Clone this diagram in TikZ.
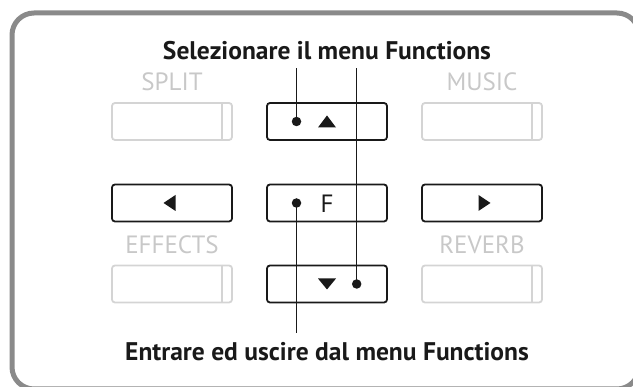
\documentclass[tikz,border=0pt]{standalone}
\usepackage{fontspec}
\setmainfont{PT Sans}
\usepackage{tikz}
\usetikzlibrary{positioning, calc}
\definecolor{framegray}{HTML}{8A8A8A}
\definecolor{keygray}{HTML}{D4D4D4}
\definecolor{labgray}{HTML}{C8C8C8}

\begin{document}
\begin{tikzpicture}[x=1pt, y=-1pt,
    key/.style={draw=black!90, line width=1.8pt, rounded corners=3pt, minimum width=120pt, minimum height=37pt, inner sep=0pt},
    offkey/.style={key, draw=keygray},
    keylab/.style={anchor=base, inner sep=0pt, text=labgray, font=\fontsize{25}{29}\selectfont},
    title/.style={anchor=base, inner sep=0pt, font=\fontsize{25.5}{30}\selectfont\bfseries, text=black!90},
    dot/.style={circle, fill=black!90, inner sep=0pt, minimum size=9.5pt},
    wire/.style={line width=1.1pt, black!90}]
    \useasboundingbox (0,0) rectangle (633,387);
    \draw[framegray, line width=5pt, rounded corners=22pt] (12,13) rectangle (639,389);
    % gray keys with their names
    \foreach \name/\x/\y/\txt in {split/172/121.5/SPLIT, music/482/121.5/MUSIC, effects/172/284/EFFECTS, reverb/482/284/REVERB} {
        \node[offkey] (\name) at (\x,\y) {};
        \draw[keygray, line width=1.8pt] ($(\name.north east)+(-11,0)$) -- ($(\name.south east)+(-11,0)$);
        \node[keylab] (\name lab) at ($(\name)+(0,-30.8)$) {\txt};
    }
    \node[key] (up) at (327,121.5) {};
    \node[key] (left) at (172,203) {};
    \node[key] (fn) at (327,203) {};
    \node[key] (right) at (482,203) {};
    \node[key] (down) at (327,284) {};
    \fill[black!90] ($(up)+(-9,6)$) -- ++(18,0) -- ++(-9,-12) -- cycle;
    \fill[black!90] ($(down)+(-9,-5.5)$) -- ++(18,0) -- ++(-9,11) -- cycle;
    \fill[black!90] ($(left)+(3.5,-8)$) -- ++(0,16) -- ++(-12,-8) -- cycle;
    \fill[black!90] ($(right)+(-3.5,-8)$) -- ++(0,16) -- ++(12,-8) -- cycle;
    \node[keylab, text=black!90] (flab) at ($(fn)+(0,10)$) {F};
    \node[dot] (updot) at ($(up)+(-30.5,0)$) {};
    \node[dot] (fdot) at ($(fn)+(-30.5,0)$) {};
    \node[dot] (downdot) at ($(down)+(29.7,0)$) {};
    \node[title] (sel) at (327,60) {Selezionare il menu Functions};
    \node[title] (ent) at (327,360.7) {Entrare ed uscire dal menu Functions};
    \coordinate (seltip) at ($(sel.base)+(0,8)$);
    \coordinate (enttip) at ($(ent.base)+(0,-27.5)$);
    \draw[wire] (updot.center) -- (updot |- seltip);
    \draw[wire] (downdot.center) -- (downdot |- seltip);
    \draw[wire] (fdot.center) -- (fdot |- enttip);
\end{tikzpicture}
\end{document}
